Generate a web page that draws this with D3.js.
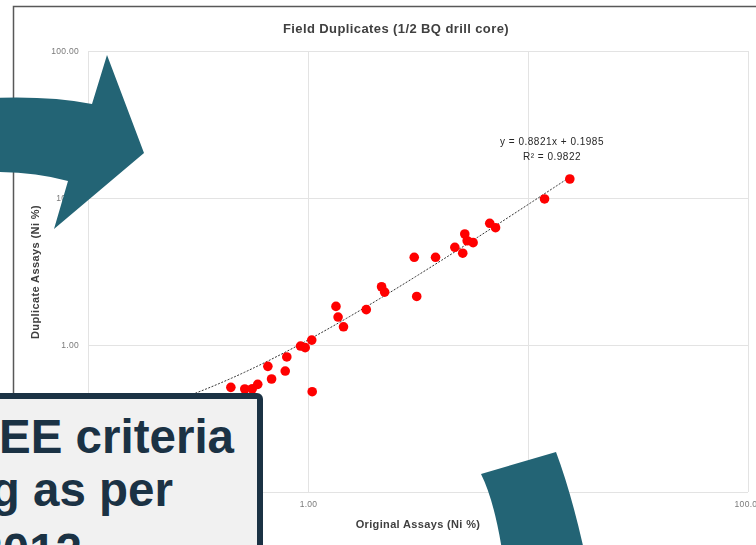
<!DOCTYPE html>
<html>
<head>
<meta charset="utf-8">
<script src="https://cdn.jsdelivr.net/npm/d3@7/dist/d3.min.js"></script>
<style>
  html, body { margin: 0; padding: 0; background: #ffffff; }
  svg { display: block; }
</style>
</head>
<body>
<svg id="chart" width="756" height="545"></svg>
<script>
// Field duplicate pairs: original assay vs duplicate assay (Ni %)
const origAssays = [15.49, 11.89, 6.70, 7.12, 5.16, 5.29, 5.63, 4.65, 5.05, 3.80,
                    3.04, 2.16, 2.23, 3.12, 1.84, 1.34, 1.37, 1.45, 1.04, 0.925,
                    0.971, 0.801, 0.657, 0.788, 0.683, 1.045, 0.446, 0.516, 0.558, 0.591];
const dupAssays  = [13.47, 9.85, 6.73, 6.28, 5.69, 5.12, 4.97, 4.62, 4.21, 3.95,
                    3.95, 2.49, 2.29, 2.14, 1.74, 1.83, 1.55, 1.33, 1.08, 0.984,
                    0.959, 0.829, 0.716, 0.665, 0.587, 0.481, 0.515, 0.502, 0.504, 0.540];

// Linear trendline y = slope * x + intercept, and the x span it covers
const trendSlope = 0.8821;
const trendIntercept = 0.1985;
const trendR2 = 0.9822;
const trendSpan = [0.25, 15.49];

// Log axis ticks (both axes)
const axisTicks = [0.1, 1, 10, 100];

const chartTitle = "Field Duplicates (1/2 BQ drill core)";
const xTitle = "Original Assays (Ni %)";
const yTitle = "Duplicate Assays (Ni %)";
const calloutLines = ["EE criteria", "g as per", "2012"];

const svg = d3.select("#chart");

const defs = svg.append("defs");
defs.append("filter").attr("id", "soft")
  .attr("x", "-5%").attr("y", "-5%").attr("width", "110%").attr("height", "110%")
  .append("feGaussianBlur").attr("stdDeviation", 0.65);

const chart = svg.append("g").attr("filter", "url(#soft)");

// chart frame
chart.append("rect")
  .attr("x", 13.5).attr("y", 6.5)
  .attr("width", 800).attr("height", 600)
  .attr("fill", "#ffffff")
  .attr("stroke", "#595959").attr("stroke-width", 1.5);

const x = d3.scaleLog().domain([0.1, 100]).range([88, 748]);
const y = d3.scaleLog().domain([0.1, 100]).range([492, 51]);

const fmt = d3.format(".2f");
const fontFam = "'Liberation Sans', Arial, sans-serif";

// gridlines
const gx = chart.append("g").attr("transform", "translate(0,492)")
  .call(d3.axisBottom(x).tickValues(axisTicks).tickSize(-441).tickFormat(""));
const gy = chart.append("g").attr("transform", "translate(88,0)")
  .call(d3.axisLeft(y).tickValues(axisTicks).tickSize(-660).tickFormat(""));
[gx, gy].forEach(g => {
  g.select(".domain").remove();
  g.selectAll(".tick line").attr("stroke", "#e3e3e3").attr("stroke-width", 1);
});

// tick labels
const lx = chart.append("g").attr("transform", "translate(0,492)")
  .call(d3.axisBottom(x).tickValues(axisTicks).tickSize(0).tickPadding(9).tickFormat(fmt));
const ly = chart.append("g").attr("transform", "translate(88,0)")
  .call(d3.axisLeft(y).tickValues(axisTicks).tickSize(0).tickPadding(9).tickFormat(fmt));
[lx, ly].forEach(g => {
  g.select(".domain").remove();
  g.selectAll("text")
    .attr("fill", "#7a7a7a")
    .style("font-family", fontFam)
    .style("font-size", "8.5px")
    .style("letter-spacing", "0.3px");
});

// trendline, drawn from the fitted equation
const trendPts = d3.range(0, 121).map(i => {
  const lx0 = Math.log10(trendSpan[0]), lx1 = Math.log10(trendSpan[1]);
  const xv = Math.pow(10, lx0 + (lx1 - lx0) * i / 120);
  return [xv, trendSlope * xv + trendIntercept];
});
chart.append("path")
  .datum(trendPts)
  .attr("d", d3.line().x(d => x(d[0])).y(d => y(d[1])))
  .attr("fill", "none")
  .attr("stroke", "#333333")
  .attr("stroke-width", 1)
  .attr("stroke-dasharray", "2,1.5");

// duplicate pairs
chart.append("g").selectAll("circle")
  .data(origAssays.map((o, i) => [o, dupAssays[i]]))
  .join("circle")
  .attr("cx", d => x(d[0]))
  .attr("cy", d => y(d[1]))
  .attr("r", 4.8)
  .attr("fill", "#ff0000");

// equation labels
const eq = chart.append("g")
  .style("font-family", fontFam)
  .style("font-size", "10px")
  .style("letter-spacing", "0.5px")
  .attr("fill", "#262626")
  .attr("text-anchor", "middle");
eq.append("text").attr("x", 552).attr("y", 145)
  .text(`y = ${trendSlope}x + ${trendIntercept}`);
eq.append("text").attr("x", 552).attr("y", 160)
  .text(`R² = ${trendR2}`);

// titles
chart.append("text")
  .attr("x", 396).attr("y", 32.5)
  .attr("text-anchor", "middle")
  .style("font-family", fontFam)
  .style("font-size", "13px").style("font-weight", "bold")
  .style("letter-spacing", "0.4px")
  .attr("fill", "#404040")
  .text(chartTitle);
chart.append("text")
  .attr("x", 418).attr("y", 528)
  .attr("text-anchor", "middle")
  .style("font-family", fontFam)
  .style("font-size", "11px").style("font-weight", "bold")
  .style("letter-spacing", "0.35px")
  .attr("fill", "#404040")
  .text(xTitle);
chart.append("text")
  .attr("transform", "translate(39,272) rotate(-90)")
  .attr("text-anchor", "middle")
  .style("font-family", fontFam)
  .style("font-size", "11px").style("font-weight", "bold")
  .style("letter-spacing", "0.4px")
  .attr("fill", "#404040")
  .text(yTitle);

// overlay: curved arrows
const arrowFill = "#236475";
svg.append("path")
  .attr("d", "M -5,98 Q 50,96 92,104 L 107,55 L 144,153 L 54,229 L 68,181 Q 35,172 -5,172 Z")
  .attr("fill", arrowFill);
svg.append("path")
  .attr("d", "M 481,474 L 556,452 Q 571,492 584,550 L 502,550 Q 494,500 481,474 Z")
  .attr("fill", arrowFill);

// overlay: callout box
svg.append("rect")
  .attr("x", -20).attr("y", 396)
  .attr("width", 280).attr("height", 220)
  .attr("rx", 3)
  .attr("fill", "#f1f1f1")
  .attr("stroke", "#1b3244").attr("stroke-width", 6);

const callout = svg.append("g")
  .attr("text-anchor", "end")
  .style("font-family", fontFam)
  .style("font-size", "47.5px").style("font-weight", "bold")
  .attr("fill", "#1b3244");
const calloutX = [234, 173, 82];
const calloutY = [453, 506, 567];
calloutLines.forEach((t, i) => {
  callout.append("text").attr("x", calloutX[i]).attr("y", calloutY[i]).text(t);
});
</script>
</body>
</html>
